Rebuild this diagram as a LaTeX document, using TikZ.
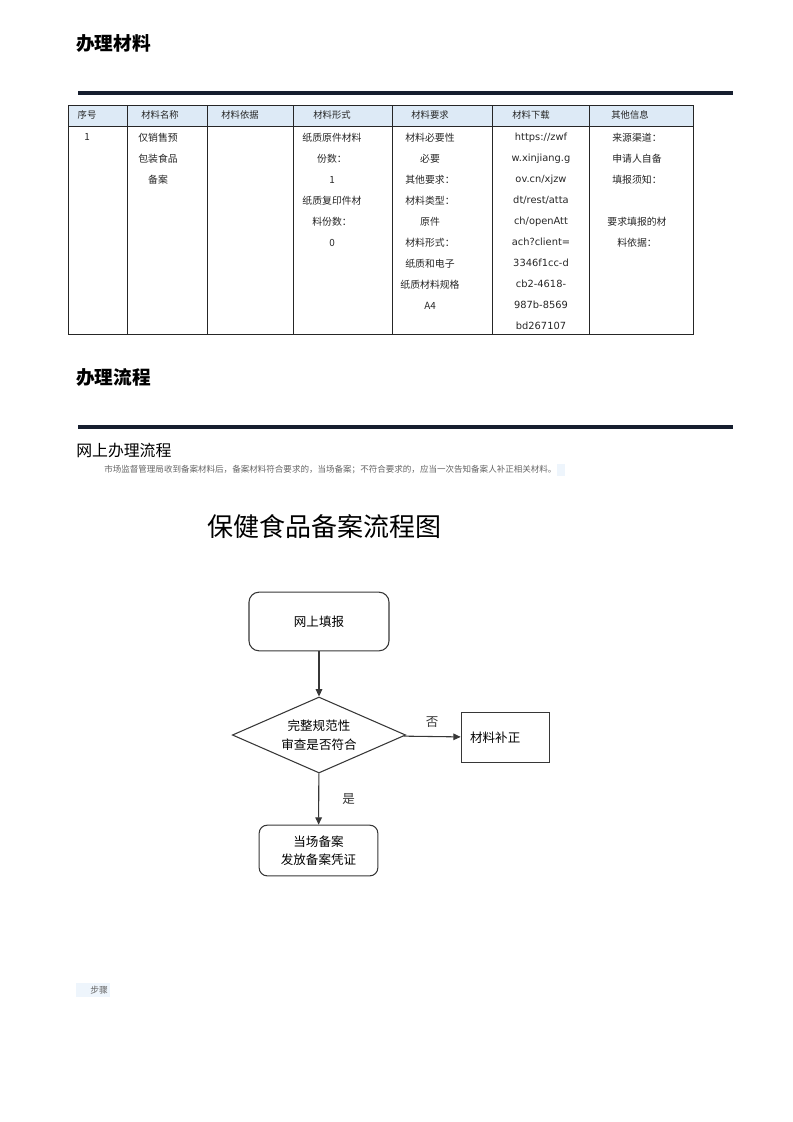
\documentclass[tikz,border=0pt]{standalone}
\usepackage{fontspec}
\setmainfont{Noto Sans CJK SC}
\newfontfamily\urlfont{DejaVu Sans}
\usetikzlibrary{arrows.meta, shapes.geometric}
\definecolor{navyrule}{RGB}{22, 30, 46}
\definecolor{headfill}{RGB}{221, 234, 246}
\definecolor{flowline}{RGB}{55, 55, 55}
\definecolor{greytext}{RGB}{100, 100, 100}
\definecolor{stepfill}{RGB}{238, 245, 252}

\begin{document}
\begin{tikzpicture}[
    x=0.75pt, y=-0.75pt,
    heading/.style={anchor=west, inner sep=0, font=\fontsize{14}{16}\selectfont\bfseries},
    rule/.style={line width=2.4pt, navyrule},
    cell/.style={anchor=north, inner sep=0, align=center, text=black!85,
                 font=\fontsize{7.4}{15.75}\selectfont},
    headcell/.style={inner sep=0, text=black!85, font=\fontsize{7}{8}\selectfont},
    startbox/.style={rectangle, rounded corners=7.5pt, draw=flowline, thick,
                     minimum width=105pt, minimum height=44pt, font=\fontsize{9.4}{13}\selectfont},
    endbox/.style={rectangle, rounded corners=6pt, draw=flowline, thick, align=center,
                   minimum width=89pt, minimum height=38pt, font=\fontsize{9.4}{13.5}\selectfont},
    fixbox/.style={rectangle, draw=flowline, thick, text width=53pt, inner xsep=6.75pt,
                   align=left, minimum height=37pt, font=\fontsize{9.4}{13}\selectfont},
    check/.style={diamond, draw=flowline, thick, align=center, inner sep=0, aspect=2.3,
                  minimum width=130pt, minimum height=57pt, font=\fontsize{9.4}{14}\selectfont},
    arrow/.style={-{Triangle[length=5.5pt, width=5pt]}, thick, flowline}
]
\useasboundingbox (0,0) rectangle (793,1122);

% --- 办理材料 ---
\node[heading] (hmat) at (76,43) {办理材料};
\draw[rule] (78,93) -- (733,93);

% table
\fill[headfill] (68,105) rectangle (693,126);
\draw[black!85, line width=0.7pt] (68,105) rectangle (693,334);
\draw[black!85, line width=0.7pt] (68,126) -- (693,126);
\foreach \cx in {127,207,293,392,492,589}
    \draw[black!85, line width=0.7pt] (\cx,105) -- (\cx,334);

\node[headcell] (h1) at (87,115) {序号};
\node[headcell] (h2) at (160,115) {材料名称};
\node[headcell] (h3) at (240,115) {材料依据};
\node[headcell] (h4) at (332,115) {材料形式};
\node[headcell] (h5) at (430,115) {材料要求};
\node[headcell] (h6) at (531,115) {材料下载};
\node[headcell] (h7) at (630,115) {其他信息};

\node[cell] (c1) at (87,133) {1};
\node[cell] (c2) at (158,133) {仅销售预\\包装食品\\备案};
\node[cell] (c4) at (332,133) {纸质原件材料\\份数：\\1\\纸质复印件材\\料份数：\\0};
\node[cell] (c5) at (430,133) {材料必要性\\必要\\其他要求：\\材料类型：\\原件\\材料形式：\\纸质和电子\\纸质材料规格\\A4};
\node[cell, font=\urlfont\fontsize{7.4}{15.75}\selectfont] (c6) at (541,133)
    {https://zwf\\w.xinjiang.g\\ov.cn/xjzw\\dt/rest/atta\\ch/openAtt\\ach?client=\\3346f1cc-d\\cb2-4618-\\987b-8569\\bd267107};
\node[cell] (c7) at (637,133) {来源渠道：\\申请人自备\\填报须知：\\[15.75pt]要求填报的材\\料依据：};

% --- 办理流程 ---
\node[heading] (hflow) at (76,377) {办理流程};
\draw[rule] (78,427) -- (733,427);
\node[anchor=west, inner sep=0, font=\fontsize{11.9}{14}\selectfont] (online) at (76,450) {网上办理流程};
\fill[stepfill] (557,464) rectangle (565,476);
\node[anchor=west, inner sep=0, text=greytext, font=\fontsize{6.4}{8}\selectfont] (desc) at (104,470)
    {市场监督管理局收到备案材料后，备案材料符合要求的，当场备案；不符合要求的，应当一次告知备案人补正相关材料。};

% flowchart
\node[font=\fontsize{19.5}{22}\selectfont] (ftitle) at (324,527) {保健食品备案流程图};
\node[startbox] (fill) at (319,621.5) {网上填报};
\node[check] (review) at (319,735) {完整规范性\\审查是否符合};
\node[fixbox] (fix) at (505.5,737.5) {材料补正};
\node[endbox] (record) at (318.5,850.5) {当场备案\\发放备案凭证};

\draw[arrow] (fill) -- (review);
\draw[arrow] (review) -- node[above, yshift=3pt, font=\fontsize{9.4}{12}\selectfont] {否} (fix);
\draw[arrow] (review) -- node[right=14pt, font=\fontsize{9.4}{12}\selectfont] {是} (record);

% 步骤
\fill[stepfill] (76,983) rectangle (110,997);
\node[anchor=west, inner sep=0, text=greytext, font=\fontsize{6.6}{8}\selectfont] (steps) at (90,990) {步骤};
\end{tikzpicture}
\end{document}
